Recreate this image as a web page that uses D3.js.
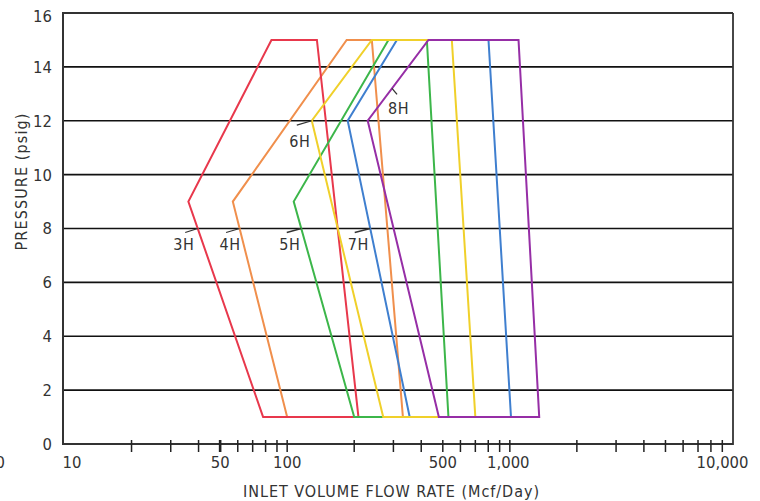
<!DOCTYPE html>
<html>
<head>
<meta charset="utf-8">
<script src="https://cdn.jsdelivr.net/npm/d3@7"></script>
<style>
  html, body { margin: 0; padding: 0; background: #fff; }
  svg { display: block; }
  text { font-family: "Liberation Sans Narrow", "DejaVu Sans Condensed", "Liberation Sans", Arial, sans-serif; fill: #333; }
</style>
</head>
<body>
<svg id="chart" width="760" height="501"></svg>
<script>
// ---- data ----
const models = ["3H", "4H", "5H", "6H", "7H", "8H"];
const bottomLeftFlow  = [78, 100, 200, 270, 355, 480];
const leftVertexFlow  = [36, 57, 107, 129, 187, 230];
const leftVertexPsi   = [9, 9, 9, 12, 12, 12];
const topLeftFlow     = [85, 185, 285, 240, 311, 431];
const topRightFlow    = [136, 240, 424, 549, 802, 1094];
const bottomRightFlow = [209, 331, 530, 700, 1012, 1355];
const minPsi = [1, 1, 1, 1, 1, 1];
const maxPsi = [15, 15, 15, 15, 15, 15];
const labelPsi = [8, 8, 8, 12, 8, 13.2];   // pressure where each label's leader touches its curve
const colors = ["#e8384c", "#f08f4c", "#3cb64a", "#f0d02a", "#3f7fcf", "#962ea6"];
const drawOrder = ["4H", "3H", "5H", "7H", "6H", "8H"];

const yTicks = [0, 2, 4, 6, 8, 10, 12, 14, 16];
const xTickLabels = [
  { v: 10, t: "10" }, { v: 50, t: "50" }, { v: 100, t: "100" },
  { v: 500, t: "500" }, { v: 1000, t: "1,000" }, { v: 10000, t: "10,000" }
];
const xMinorTicks = [20,30,40,50,60,70,80,90,100,200,300,400,500,600,700,800,900,1000,
                     2000,3000,4000,5000,6000,7000,8000,9000];
const xTitle = "INLET VOLUME FLOW RATE (Mcf/Day)";
const yTitle = "PRESSURE (psig)";

// ---- layout ----
const svg = d3.select("#chart");
const x = d3.scaleLog().domain([10, 10000]).range([64.5, 732.5]);
const y = d3.scaleLinear().domain([0, 16]).range([444, 13]);
const L = 63, R = 733;

// gridlines
svg.append("g").selectAll("line").data(yTicks.filter(d => d > 0 && d < 16)).join("line")
  .attr("x1", L).attr("x2", R).attr("y1", d => y(d)).attr("y2", d => y(d))
  .attr("stroke", "#111").attr("stroke-width", 1.6);

// frame
svg.append("line").attr("x1", L).attr("x2", R).attr("y1", y(16)).attr("y2", y(16))
  .attr("stroke", "#333").attr("stroke-width", 1.8);
svg.append("line").attr("x1", R).attr("x2", R).attr("y1", y(16)).attr("y2", y(0) + 1)
  .attr("stroke", "#333").attr("stroke-width", 1.8);
svg.append("line").attr("x1", L).attr("x2", L).attr("y1", y(16) - 1).attr("y2", y(0) + 1)
  .attr("stroke", "#333").attr("stroke-width", 2);
svg.append("line").attr("x1", L).attr("x2", R).attr("y1", y(0)).attr("y2", y(0))
  .attr("stroke", "#333").attr("stroke-width", 2);

// x ticks
svg.append("g").selectAll("line").data(xMinorTicks).join("line")
  .attr("x1", d => x(d)).attr("x2", d => x(d))
  .attr("y1", y(0) - 4).attr("y2", y(0) + 8)
  .attr("stroke", "#222").attr("stroke-width", d => d === 50 ? 2.6 : 1.5);

// y tick labels
svg.append("g").selectAll("text").data(yTicks).join("text")
  .attr("x", 52).attr("y", d => y(d) + (d === 16 ? 3 : 0)).attr("dy", "0.36em")
  .attr("text-anchor", "end").attr("font-size", 16.5)
  .text(d => d);

// x tick labels
const xLabelShift = { 10: 7.5, 10000: -10 };
svg.append("g").selectAll("text").data(xTickLabels).join("text")
  .attr("x", d => x(d.v) + (xLabelShift[d.v] || 0) - (d.v === 1000 ? 1.5 : 0))
  .attr("y", 468).attr("text-anchor", "middle").attr("font-size", 16.5)
  .text(d => d.t);
// clipped label at the far left edge
svg.append("text").attr("x", 5).attr("y", 468).attr("text-anchor", "end")
  .attr("font-size", 16.5).text("10");

// axis titles
svg.append("text").attr("x", 391).attr("y", 497).attr("text-anchor", "middle")
  .attr("font-size", 16).attr("textLength", 296).attr("lengthAdjust", "spacing")
  .text(xTitle);
svg.append("text").attr("transform", "translate(27,182) rotate(-90)")
  .attr("text-anchor", "middle").attr("font-size", 16)
  .attr("textLength", 137).attr("lengthAdjust", "spacing")
  .text(yTitle);

// envelopes
const line = d3.line().x(d => x(d[0])).y(d => y(d[1]));
const shapes = models.map((m, i) => ({
  model: m, color: colors[i],
  pts: [
    [bottomLeftFlow[i], minPsi[i]],
    [leftVertexFlow[i], leftVertexPsi[i]],
    [topLeftFlow[i], maxPsi[i]],
    [topRightFlow[i], maxPsi[i]],
    [bottomRightFlow[i], minPsi[i]]
  ],
  labelPsi: labelPsi[i], i
}));
const ordered = drawOrder.map(m => shapes.find(s => s.model === m));
svg.append("g").selectAll("path").data(ordered).join("path")
  .attr("d", d => line(d.pts) + "Z")
  .attr("fill", "none").attr("stroke", d => d.color)
  .attr("stroke-width", 2).attr("stroke-linejoin", "miter");

// point on left edge at given pressure (log interpolation)
function leftEdgePoint(s, p) {
  const [b, v, t] = s.pts;
  let a, c;
  if (p <= v[1]) { a = b; c = v; } else { a = v; c = t; }
  const k = (p - a[1]) / (c[1] - a[1]);
  const lx = Math.log10(a[0]) + k * (Math.log10(c[0]) - Math.log10(a[0]));
  return [x(Math.pow(10, lx)), y(p)];
}

// label layout (pixel offsets from the leader's touching point)
const labelLayout = {
  "3H": { lx: -12.5, ly: 4, tx: -14, ty: 21 },
  "4H": { lx: -13.5, ly: 4, tx: -9.5, ty: 21 },
  "5H": { lx: -14.5, ly: 4, tx: -11.5, ty: 21 },
  "6H": { lx: -15, ly: 4.3, tx: -12, ty: 26 },
  "7H": { lx: -15.5, ly: 4, tx: -12, ty: 21 },
  "8H": { lx: 5, ly: 6, tx: 6.5, ty: 26 }
};
const lab = svg.append("g");
shapes.forEach(s => {
  const p = leftEdgePoint(s, s.labelPsi);
  const o = labelLayout[s.model];
  lab.append("line").attr("x1", p[0]).attr("y1", p[1])
    .attr("x2", p[0] + o.lx).attr("y2", p[1] + o.ly)
    .attr("stroke", "#333").attr("stroke-width", 1.3);
  lab.append("text").attr("x", p[0] + o.tx).attr("y", p[1] + o.ty)
    .attr("text-anchor", "middle").attr("font-size", 16)
    .attr("letter-spacing", 0.5)
    .text(s.model);
});
</script>
</body>
</html>
